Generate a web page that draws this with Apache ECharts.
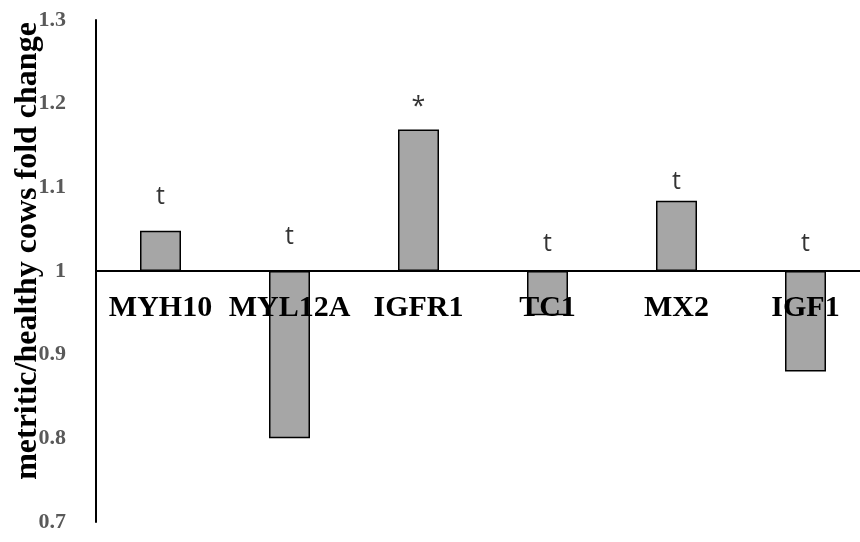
<!DOCTYPE html>
<html>
<head>
<meta charset="utf-8">
<script src="https://cdn.jsdelivr.net/npm/echarts@6/dist/echarts.min.js"></script>
<style>
html,body{margin:0;padding:0;background:#fff;}
#chart{width:860px;height:542px;}
</style>
</head>
<body>
<div id="chart"></div>
<script>
// ---- data ----
var genes = ['MYH10', 'MYL12A', 'IGFR1', 'TC1', 'MX2', 'IGF1'];
var foldChange = [1.048, 0.800, 1.169, 0.947, 1.084, 0.880];
var sigMarks = ['t', 't', '*', 't', 't', 't'];
var sigMarkLevel = [1.088, 1.041, 1.196, 1.032, 1.107, 1.033];
var yTicks = [0.7, 0.8, 0.9, 1, 1.1, 1.2, 1.3];
var baseline = 1;

var GRID_TOP = 20, GRID_BOTTOM = 20, H = 542;
var plotH = H - GRID_TOP - GRID_BOTTOM;
var yMin = yTicks[0] - baseline, yMax = yTicks[yTicks.length - 1] - baseline;
var axisOffset = -plotH * (0 - yMin) / (yMax - yMin);

var chart = echarts.init(document.getElementById('chart'));
var barData = foldChange.map(function (v) { return +(v - baseline).toFixed(4); });
var markData = sigMarkLevel.map(function (v, i) { return [genes[i], +(v - baseline).toFixed(4)]; });

chart.setOption({
  animation: false,
  backgroundColor: '#ffffff',
  grid: { left: 96, top: GRID_TOP, bottom: GRID_BOTTOM, width: 774, containLabel: false, outerBoundsMode: 'none' },
  xAxis: {
    type: 'category',
    data: genes,
    z: 10,
    position: 'bottom',
    offset: axisOffset,
    axisLine: { onZero: false, lineStyle: { color: '#000', width: 2 } },
    axisTick: { show: false },
    axisLabel: {
      interval: 0,
      margin: 22,
      color: '#000',
      fontFamily: '"Liberation Serif", "Times New Roman", serif',
      fontWeight: 'bold',
      fontSize: 30
    }
  },
  yAxis: {
    type: 'value',
    min: yMin,
    max: yMax,
    interval: 0.1,
    name: 'metritic/healthy cows fold change',
    nameLocation: 'middle',
    nameGap: 52,
    nameMoveOverlap: false,
    nameTextStyle: {
      color: '#000',
      fontFamily: '"Liberation Serif", "Times New Roman", serif',
      fontWeight: 'bold',
      fontSize: 32,
      padding: [0, 0, 0, 40]
    },
    splitLine: { show: false },
    axisTick: { show: false },
    axisLine: { show: true, onZero: false, lineStyle: { color: '#000', width: 2 } },
    axisLabel: {
      margin: 30,
      color: '#595959',
      fontFamily: '"Liberation Serif", "Times New Roman", serif',
      fontWeight: 'bold',
      fontSize: 22,
      formatter: function (v) { return String(Math.round((v + baseline) * 10) / 10); }
    }
  },
  series: [
    {
      type: 'bar',
      data: barData,
      barWidth: 41,
      itemStyle: { color: '#a6a6a6', borderColor: '#000', borderWidth: 1.5 }
    },
    {
      type: 'scatter',
      data: markData,
      symbolSize: 0,
      silent: true,
      label: {
        show: true,
        position: 'inside',
        color: '#000',
        fontFamily: '"Open Sans", "Noto Sans", sans-serif',
        fontSize: 25,
        formatter: function (p) { return sigMarks[p.dataIndex]; }
      }
    }
  ]
});
</script>
</body>
</html>
